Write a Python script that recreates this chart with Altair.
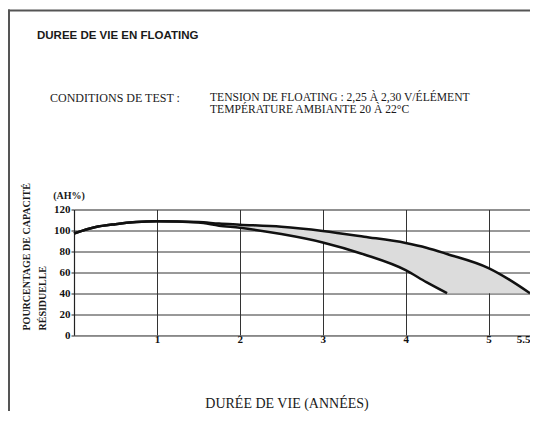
import altair as alt
import pandas as pd
import numpy as np

# Data
years = [0, 0.25, 0.5, 0.75, 1, 1.5, 1.75, 2, 2.5, 3, 3.5, 4, 4.25, 4.5, 5, 5.25, 5.5]
upper = [97, 103, 106, 108, 108.7, 108, 106.5, 105.5, 103.5, 99.5, 94, 88, 83.5, 77.5, 64, 53, 40]
lower = [97, 103, 106, 108, 108.7, 107.5, 104.5, 102.5, 96.5, 88.5, 77, 62, 50.5, 40, None, None, None]
floor_level = 40

x_ticks = [0, 1, 2, 3, 4, 5, 5.5]
y_ticks = [0, 20, 40, 60, 80, 100, 120]

title_text = "DUREE DE VIE EN FLOATING"
cond_label = "CONDITIONS DE TEST :"
cond_lines = ["TENSION DE FLOATING : 2,25 À 2,30 V/ÉLÉMENT", "TEMPÉRATURE AMBIANTE 20 À 22°C"]
unit_text = "(AH%)"
y_title = ["POURCENTAGE DE CAPACITÉ", "RÉSIDUELLE"]
x_title = "DURÉE DE VIE (ANNÉES)"

df = pd.DataFrame({"x": years, "upper": upper, "lower": lower})
df["fill_lo"] = [l if l is not None and not (isinstance(l, float) and np.isnan(l)) else floor_level for l in lower]

serif = "Liberation Serif"
sans = "Liberation Sans"

xs = alt.Scale(domain=[0, 5.5], nice=False)
ys = alt.Scale(domain=[0, 120], nice=False)

x_axis = alt.Axis(values=x_ticks, title=None, grid=True, gridColor="#333", gridWidth=1,
                  labelExpr="datum.value == 0 ? '' : toString(datum.value)",
                  labelAlign=alt.expr("datum.value == 5.5 ? 'right' : 'center'"),
                  labelFont=serif, labelFontWeight="bold", labelFontSize=11,
                  labelColor="#111", labelPadding=-2, tickSize=0, domain=False,
                  labelBaseline="top", labelOverlap=False, labelFlush=False)
y_axis = alt.Axis(values=y_ticks, title=None, grid=True, gridColor="#333", gridWidth=1,
                  labelFont=serif, labelFontWeight="bold", labelFontSize=11,
                  labelColor="#111", labelPadding=1, tickSize=3, tickColor="#222",
                  domainColor="#222", domainWidth=1.2, labelOverlap=False,
                  labelFlush=False)

base = alt.Chart(df)

area = base.mark_area(color="#dcdcdc", interpolate="monotone").encode(
    x=alt.X("x:Q", scale=xs, axis=x_axis),
    y=alt.Y("upper:Q", scale=ys, axis=y_axis),
    y2="fill_lo:Q",
)

line_up = base.mark_line(color="#111", strokeWidth=2.5, interpolate="monotone").encode(
    x=alt.X("x:Q", scale=xs, axis=x_axis), y=alt.Y("upper:Q", scale=ys, axis=y_axis))
line_lo = base.transform_filter("isValid(datum.lower)").mark_line(
    color="#111", strokeWidth=2.5, interpolate="monotone").encode(
    x=alt.X("x:Q", scale=xs, axis=x_axis), y=alt.Y("lower:Q", scale=ys, axis=y_axis))

one = pd.DataFrame({"a": [0]})

def txt(s, x, y, font=serif, size=11, weight="normal", align="left", angle=0, baseline="middle"):
    kw = dict(text=s, font=font, fontSize=size, fontWeight=weight, align=align,
              baseline=baseline, color="#1a1a1a")
    if angle:
        kw["angle"] = angle
    return alt.Chart(one).mark_text(**kw).encode(x=alt.value(x), y=alt.value(y))

texts = [
    txt(title_text, -37, -173.5, font=sans, size=11.5, weight="bold"),
    txt(cond_label, -24, -111.5, size=12),
    txt(cond_lines[0], 136, -111.5, size=11.6),
    txt(cond_lines[1], 136, -99.5, size=11.6),
    txt(unit_text, -5, -13.5, size=10, weight="bold", align="center"),
    txt(y_title[0], -47, 121, size=10, weight="bold", angle=270),
    txt(y_title[1], -31, 121, size=10, weight="bold", angle=270),
    txt(x_title, 213, 194.5, size=14, align="center"),
]

frame_left = alt.Chart(one).mark_rule(color="#555", strokeWidth=2).encode(
    x=alt.value(-65), y=alt.value(-200), y2=alt.value(215))
frame_top = alt.Chart(one).mark_rule(color="#555", strokeWidth=2).encode(
    x=alt.value(-66), x2=alt.value(470), y=alt.value(-199))

chart = alt.layer(area, line_up, line_lo, *texts, frame_left, frame_top).properties(
    width=456, height=125.5,
    padding={"left": 66, "top": 201.5, "right": 0, "bottom": 76},
    autosize=alt.AutoSizeParams(type="none"),
).configure_view(stroke="#222", strokeWidth=1.2).configure(background="white")

chart.save("out.html", embed_options={"renderer": "svg", "actions": False})
